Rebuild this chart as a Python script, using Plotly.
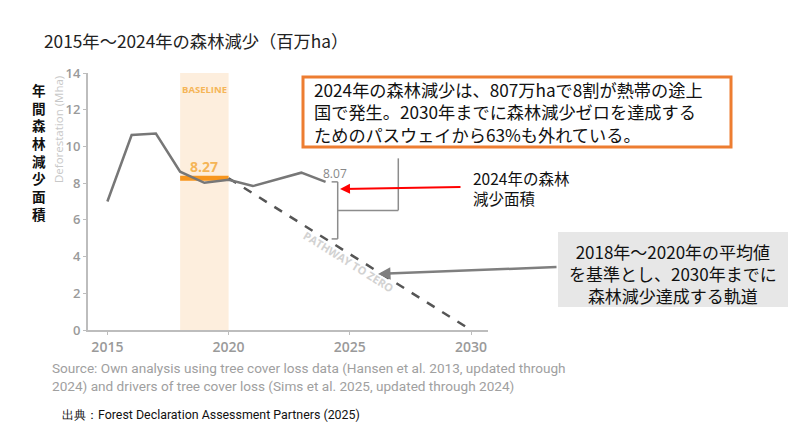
import plotly.graph_objects as go

# ---- data ----
years = [2015, 2016, 2017, 2018, 2019, 2020, 2021, 2022, 2023, 2024]
deforestation = [7.0, 10.62, 10.7, 8.62, 8.02, 8.18, 7.84, 8.2, 8.57, 8.07]
baseline_years = [2018, 2020]
baseline_value = 8.27
pathway_years = [2020, 2030]
pathway_values = [8.27, 0.0]
x_ticks = [2015, 2020, 2025, 2030]
y_ticks = [0, 2, 4, 6, 8, 10, 12, 14]

title_text = "2015年～2024年の森林減少（百万ha）"
ylabel_jp = "年間森林減少面積"
box1_lines = ["2024年の森林減少は、807万haで8割が熱帯の途上",
              "国で発生。2030年までに森林減少ゼロを達成する",
              "ためのパスウェイから63%も外れている。"]
box2_lines = ["2018年～2020年の平均値", "を基準とし、2030年までに", "森林減少達成する軌道"]
red_lines = ["2024年の森林", "減少面積"]
source_lines = ["Source: Own analysis using tree cover loss data (Hansen et al. 2013, updated through",
                "2024) and drivers of tree cover loss (Sims et al. 2025, updated through 2024)"]
credit = "出典：Forest Declaration Assessment Partners (2025)"

# ---- layout geometry (page pixels; page body has an 8px margin) ----
OFF = 8
W, H = 811 - OFF, 441 - OFF
L, R, T, B = 88, 488, 73, 330          # plot area in page pixels
XR = [2014.2, 2030.7]
YR = [0, 14]


def px(xp):
    return (xp - L) / (R - L)


def py(yp):
    return (B - yp) / (B - T)


fig = go.Figure()

# baseline band
fig.add_shape(type="rect", xref="x", yref="y", x0=baseline_years[0], x1=baseline_years[1],
              y0=YR[0], y1=YR[1], fillcolor="#FDEEDD", line_width=0, layer="below")

# baseline average line
fig.add_trace(go.Scatter(x=baseline_years, y=[baseline_value] * 2, mode="lines",
                         line=dict(color="#F7961E", width=5), hoverinfo="skip"))
# pathway
fig.add_trace(go.Scatter(x=pathway_years, y=pathway_values, mode="lines",
                         line=dict(color="#555555", width=2.5, dash="dash"), hoverinfo="skip"))
# deforestation series
fig.add_trace(go.Scatter(x=years, y=deforestation, mode="lines",
                         line=dict(color="#777777", width=2.5), hoverinfo="skip"))

# bracket at 2024
gap_top = deforestation[-1]
gap_bot = pathway_values[0] * (pathway_years[1] - 2024) / (pathway_years[1] - pathway_years[0])
bx = 2024.5
mid = (gap_top + gap_bot) / 2
brk = dict(color="#8C8C8C", width=1.5)
fig.add_shape(type="line", xref="x", yref="y", x0=bx, x1=bx, y0=gap_bot, y1=gap_top, line=brk)
fig.add_shape(type="line", xref="x", yref="y", x0=bx - 0.25, x1=bx, y0=gap_top, y1=gap_top, line=brk)
fig.add_shape(type="line", xref="x", yref="y", x0=bx - 0.25, x1=bx, y0=gap_bot, y1=gap_bot, line=brk)
fig.add_shape(type="line", xref="x", yref="y", x0=bx, x1=2027.0, y0=mid, y1=mid, line=brk)
fig.add_shape(type="line", xref="x", yref="y", x0=2027.0, x1=2027.0, y0=mid, y1=9.35, line=brk)

ann = []


def txt(xp, yp, text, size, color, family, xanchor="center", **kw):
    ann.append(dict(x=px(xp), y=py(yp), xref="paper", yref="paper", text=text, showarrow=False,
                    xanchor=xanchor, yanchor="middle",
                    font=dict(size=size, color=color, family=family), **kw))


# BASELINE and labels (data coords)
ann.append(dict(x=2019, y=13.1, xref="x", yref="y", text="<b>BASELINE</b>", showarrow=False,
                yanchor="middle", font=dict(size=9.5, color="#F5B557", family="Open Sans")))
ann.append(dict(x=2019, y=8.93, xref="x", yref="y", text="<b>8.27</b>", showarrow=False,
                yanchor="middle", font=dict(size=14, color="#F5B557", family="Open Sans")))
ann.append(dict(x=2024.4, y=8.5, xref="x", yref="y", text=f"{deforestation[-1]:.2f}", showarrow=False,
                yanchor="middle", font=dict(size=12, color="#888888", family="Open Sans")))
ann.append(dict(x=2024.95, y=3.75, xref="x", yref="y", text="<b>PATHWAY TO ZERO</b>", showarrow=False,
                yanchor="middle", textangle=32, font=dict(size=11, color="#D2D2D2", family="Open Sans")))

# y-axis English title
txt(58, 130, "Deforestation (Mha)", 11.5, "#C8C8C8", "Open Sans", textangle=-90)
# Japanese vertical label
txt(39, 152, "<b>" + "<br>".join(ylabel_jp) + "</b>", 13.6, "#111111", "Noto Sans CJK JP")

# title
txt(42, 40, title_text, 17.3, "#222222", "Noto Sans CJK JP", xanchor="left")

# orange box
fig.add_shape(type="rect", xref="paper", yref="paper", x0=px(303), x1=px(731), y0=py(147), y1=py(77),
              line=dict(color="#ED7D31", width=3), fillcolor="white")
txt(312, 112, "<br>".join(box1_lines), 17.2, "#111111", "Noto Sans CJK JP", xanchor="left", align="left")

# red arrow + text
ann.append(dict(x=px(340), y=py(189), xref="paper", yref="paper", text="", showarrow=True,
                ax=122, ay=-2, arrowcolor="#FF0000", arrowwidth=2, arrowhead=2, arrowsize=1))
txt(471, 188, "<br>".join(red_lines), 15.5, "#111111", "Noto Sans CJK JP", xanchor="left", align="left")

# grey box + arrow
fig.add_shape(type="rect", xref="paper", yref="paper", x0=px(558), x1=px(788), y0=py(307), y1=py(232),
              line_width=0, fillcolor="#E7E7E7")
ann.append(dict(x=px(378), y=py(274), xref="paper", yref="paper", text="", showarrow=True,
                ax=180, ay=-7, arrowcolor="#7F7F7F", arrowwidth=2.5, arrowhead=2, arrowsize=1))
txt(673, 273, "<br>".join(box2_lines), 17, "#111111", "Noto Sans CJK JP", align="center")

# source lines
txt(50, 377, "<br>".join(source_lines), 13.6, "#A0A0A0", "Roboto", xanchor="left", align="left")
txt(60, 414, credit, 12.4, "#111111", "Liberation Sans Narrow, Roboto", xanchor="left")

fig.update_layout(
    width=W, height=H, margin=dict(l=L - OFF, r=W - (R - OFF), t=T - OFF, b=H - (B - OFF)),
    paper_bgcolor="white", plot_bgcolor="white", showlegend=False,
    annotations=ann,
    xaxis=dict(range=XR, tickvals=x_ticks, showgrid=False, zeroline=False, showline=True,
               linecolor="#BDBDBD", linewidth=2, ticks="outside", tickcolor="#BDBDBD", ticklen=3,
               tickfont=dict(size=14, color="#9A9A9A", family="Open Sans", weight=600)),
    yaxis=dict(range=YR, tickvals=y_ticks, showgrid=False, zeroline=False, showline=True,
               linecolor="#BDBDBD", linewidth=2, ticks="outside", tickcolor="#BDBDBD", ticklen=3,
               tickfont=dict(size=13, color="#9A9A9A", family="Open Sans", weight=600)),
)

fig.write_html("out.html")
